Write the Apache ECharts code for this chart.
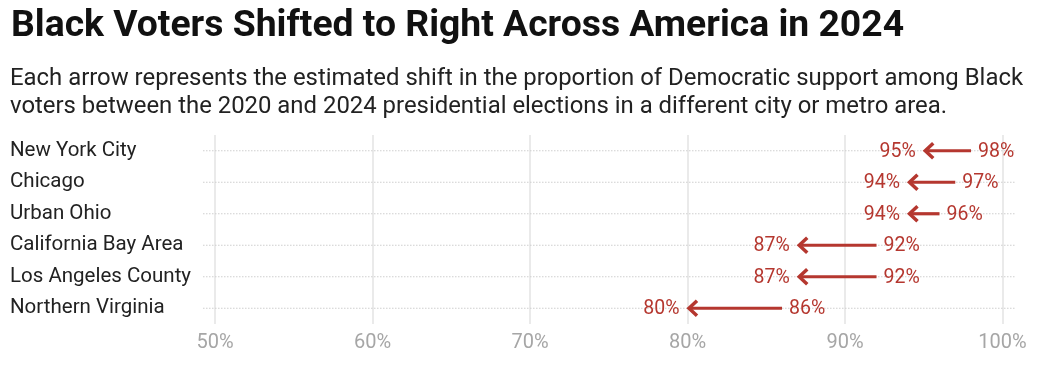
<!DOCTYPE html>
<html>
<head>
<meta charset="utf-8">
<script src="https://cdn.jsdelivr.net/npm/echarts@6/dist/echarts.min.js"></script>
<style>
html,body{margin:0;padding:0;background:#fff;}
#chart{width:1046px;height:368px;}
</style>
</head>
<body>
<div id="chart"></div>
<script>
const titleText = 'Black Voters Shifted to Right Across America in 2024';
const subtitleText = 'Each arrow represents the estimated shift in the proportion of Democratic support among Black\nvoters between the 2020 and 2024 presidential elections in a different city or metro area.';
const cities = ['New York City', 'Chicago', 'Urban Ohio', 'California Bay Area', 'Los Angeles County', 'Northern Virginia'];
const share2020 = [98, 97, 96, 92, 92, 86];
const share2024 = [95, 94, 94, 87, 87, 80];
const xMin = 50, xMax = 100, xStep = 10;

const RED = '#b5372f';
const FONT = 'Roboto, "Noto Sans", sans-serif';

const chart = echarts.init(document.getElementById('chart'), null, {renderer: 'canvas'});

const arrowData = cities.map((c, i) => [i, share2020[i], share2024[i]]);
const rowData = cities.map((c, i) => [i]);

function renderRow(params, api) {
  const idx = api.value(0);
  const a = api.coord([xMin - 0.76, idx]);
  const b = api.coord([xMax + 0.8, idx]);
  return {
    type: 'line',
    shape: {x1: a[0], y1: a[1], x2: b[0], y2: b[1]},
    style: {stroke: '#cfcfcf', lineWidth: 1, lineDash: [1.5, 1.5]},
    silent: true
  };
}

function renderArrow(params, api) {
  const idx = api.value(0);
  const from = api.value(1);
  const to = api.value(2);
  const p0 = api.coord([from, idx]);
  const p1 = api.coord([to, idx]);
  const y = p0[1];
  return {
    type: 'group',
    children: [
      {
        type: 'line',
        shape: {x1: p0[0], y1: y, x2: p1[0] + 2, y2: y},
        style: {stroke: RED, lineWidth: 3.2}
      },
      {
        type: 'polyline',
        shape: {points: [[p1[0] + 9.5, y - 7.5], [p1[0] + 1.5, y], [p1[0] + 9.5, y + 7.5]]},
        style: {stroke: RED, lineWidth: 3.5, fill: null, lineJoin: 'miter'}
      },
      {
        type: 'text',
        x: p1[0] - 8, y: y + 1,
        style: {text: to + '%', fill: RED, font: '19.5px ' + FONT, align: 'right', verticalAlign: 'middle'}
      },
      {
        type: 'text',
        x: p0[0] + 7, y: y + 1,
        style: {text: from + '%', fill: RED, font: '19.5px ' + FONT, align: 'left', verticalAlign: 'middle'}
      }
    ]
  };
}

chart.setOption({
  animation: false,
  backgroundColor: '#fff',
  title: [
    {
      text: titleText,
      left: 6, top: 3,
      textStyle: {fontFamily: FONT, fontSize: 37.3, fontWeight: 'bold', color: '#111'}
    },
    {
      text: subtitleText,
      left: 5, top: 60,
      textStyle: {fontFamily: FONT, fontSize: 23.9, fontWeight: 'normal', color: '#222', lineHeight: 28}
    }
  ],
  grid: {left: 215, right: 43.5, top: 135, bottom: 44},
  xAxis: {
    type: 'value',
    min: xMin, max: xMax, interval: xStep,
    axisLine: {show: false},
    axisTick: {show: false},
    axisLabel: {
      formatter: v => v + '%',
      color: '#a6a6a6', fontFamily: FONT, fontSize: 20, margin: 9
    },
    splitLine: {show: true, lineStyle: {color: '#e3e3e3', width: 1.5}}
  },
  yAxis: {
    type: 'category',
    data: cities,
    inverse: true,
    axisLine: {show: false},
    axisTick: {show: false},
    splitLine: {show: false},
    axisLabel: {
      align: 'left', margin: 205,
      color: '#222', fontFamily: FONT, fontSize: 20.5
    }
  },
  series: [
    {
      type: 'custom',
      renderItem: renderRow,
      data: rowData,
      encode: {y: 0},
      clip: false,
      z: 1,
      silent: true
    },
    {
      type: 'custom',
      renderItem: renderArrow,
      data: arrowData,
      encode: {y: 0, x: [1, 2]},
      clip: false,
      z: 3
    }
  ]
});
</script>
</body>
</html>
